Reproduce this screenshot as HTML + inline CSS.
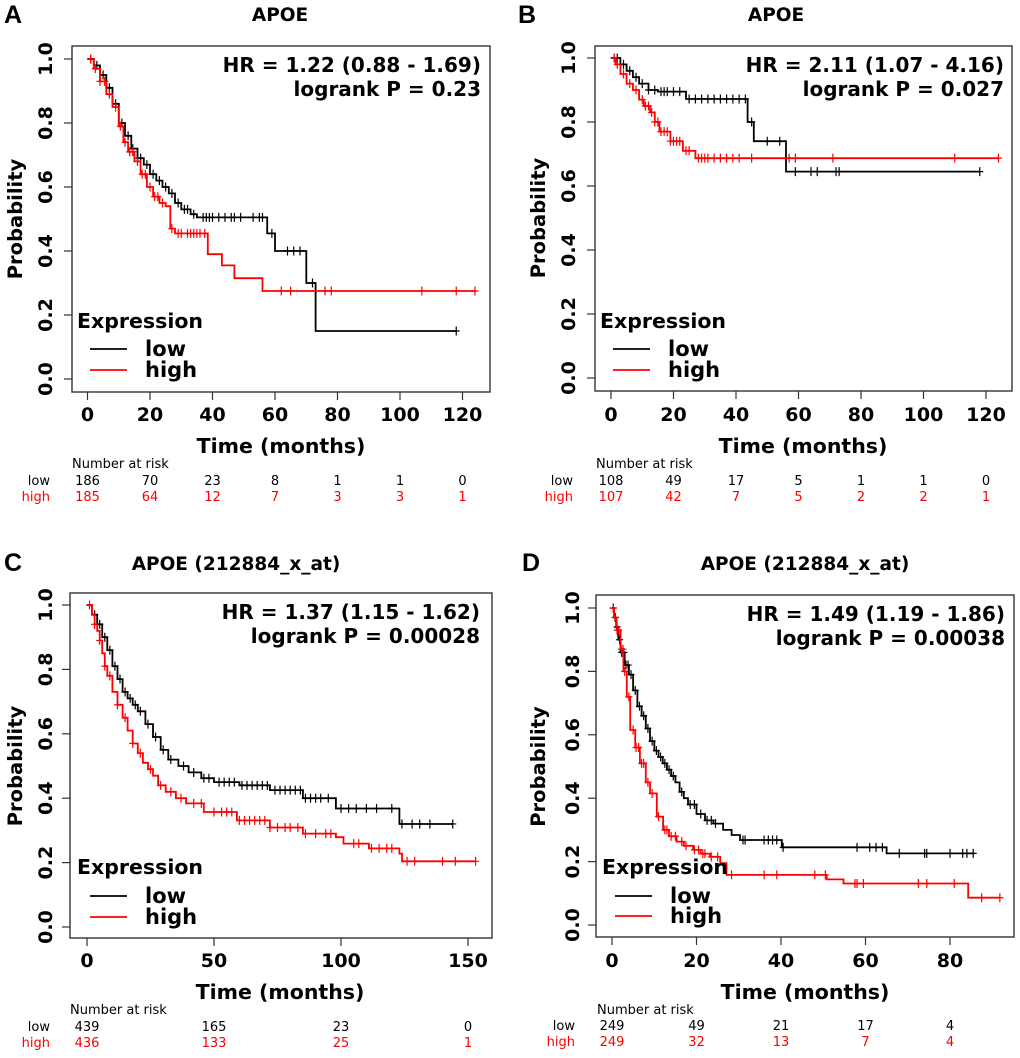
<!DOCTYPE html>
<html><head><meta charset="utf-8"><style>
html,body{margin:0;padding:0;background:#fff;}
svg{display:block;font-family:"DejaVu Sans","Liberation Sans",sans-serif;}
.b{font-weight:bold;}
.lt{font-family:"Liberation Sans",sans-serif;font-weight:bold;}
</style></head>
<body>
<svg id="fig" width="1020" height="1058" viewBox="0 0 1020 1058"></svg>
<script>
// ---------- Panel A data ----------
const aLowT=[0,2,4,6,8,10,12,14,16,18,20,22,24,26,28,30,33,35,57.5,60,70,73,118];
const aLowS=[1,0.98,0.95,0.91,0.86,0.80,0.76,0.72,0.69,0.67,0.64,0.62,0.60,0.58,0.55,0.53,0.515,0.505,0.455,0.40,0.30,0.15,0.15];
const aLowC=[1,3,5,7,9,11,13,14.5,16,17,19,21,23,25,27,29,31,32,34,37,38,39,40,42,44,46,47,49,53,55,56,59,64,66,68,72,118];
const aHighT=[0,2,4,6,8,10,11.5,13,15,17,19,21,23,25,26.5,28,38.5,43,47,56,124];
const aHighS=[1,0.97,0.93,0.89,0.85,0.79,0.74,0.71,0.68,0.64,0.60,0.57,0.55,0.54,0.47,0.455,0.39,0.355,0.315,0.275,0.275];
const aHighC=[1,2.5,4,5.5,7,9,10.5,12,13.5,14.5,16,17.5,18.5,20,21.5,22.5,24,27,29,30,32,33,34,35,36,37.5,62,65,76,78,107,118,124];
const aTicks=[0,20,40,60,80,100,120];
const aRiskLow=[186,70,23,8,1,1,0];
const aRiskHigh=[185,64,12,7,3,3,1];
// ---------- Panel B data ----------
const bLowT=[0,3,5,7,9,12,15,24,43.7,45.7,56,118];
const bLowS=[1,0.98,0.96,0.94,0.92,0.90,0.895,0.872,0.80,0.74,0.645,0.645];
const bLowC=[1,2,4,6,8,10,12,14,16,17,18,20,22,25,27,29,31,33,35,37,39,41,43,45,50,54,59,64,66,72,73,118];
const bHighT=[0,1.5,3,5,7,9,10.5,12.5,14,15.5,19,23,27,124];
const bHighS=[1,0.98,0.95,0.92,0.90,0.87,0.85,0.83,0.80,0.77,0.74,0.71,0.687,0.687];
const bHighC=[1,2,4,6,8,10,11,12,13,14,15,16,17,18,19,20,21,22,24,25,28,29,30,31,33,35,37,39,41,45,57,59,71,110,124];
const bTicks=[0,20,40,60,80,100,120];
const bRiskLow=[108,49,17,5,1,1,0];
const bRiskHigh=[107,42,7,5,2,2,1];
// ---------- Panel C data ----------
const cLowT=[0,2,4,6,8,10,12,14,16,18,20,23,26,29,32,36,40,45,50,60,72,85,98,123,144];
const cLowS=[1,0.97,0.94,0.90,0.86,0.81,0.77,0.73,0.71,0.69,0.67,0.63,0.59,0.55,0.52,0.50,0.48,0.462,0.45,0.44,0.425,0.40,0.368,0.32,0.32];
const cLowC=[3,5,7,9,11,13,15,17,19,21,24,27,30,33,38,42,46,48,52,54,56,58,61,63,65,67,69,71,74,76,78,80,82,84,86,88,90,92,95,100,103,106,110,114,120,124,128,131,135,144];
const cHighT=[0,2,3,4,5,6,7,8,10,12,14,16,18,20,22,24,26,28,31,35,39,46,59,72,85,98,101,111,123,124,153];
const cHighS=[1,0.97,0.94,0.92,0.89,0.85,0.81,0.78,0.73,0.69,0.65,0.61,0.57,0.54,0.51,0.49,0.47,0.44,0.42,0.40,0.384,0.357,0.331,0.309,0.29,0.279,0.259,0.244,0.228,0.204,0.204];
const cHighC=[1,3,5,7,9,12,15,18,21,25,29,33,37,42,45,50,53,55,57,60,62,64,66,68,70,72,75,78,80,83,86,90,94,96,105,107,112,115,118,120,126,129,140,145,153];
const cTicks=[0,50,100,150];
const cRiskLow=[439,165,23,0];
const cRiskHigh=[436,133,25,1];
// ---------- Panel D data ----------
const dLowT=[0,0.5,1,1.5,2,3,4,5,6,7,8,9,10,11,12,13,14,15,16,17,18,20,22,24,26.3,28.3,30.3,40.2,65,85.5];
const dLowS=[1,0.97,0.94,0.90,0.86,0.82,0.79,0.74,0.69,0.66,0.62,0.58,0.55,0.53,0.51,0.49,0.47,0.45,0.42,0.40,0.38,0.35,0.33,0.32,0.30,0.284,0.268,0.245,0.226,0.226];
const dLowC=[0.3,0.8,1.2,1.8,2.3,2.8,3.3,3.8,4.5,5.5,6.5,7.5,8.5,9.5,10.5,11.5,12.5,13.5,14.5,16.5,18.5,19.5,21,22.5,23.5,24.5,31,31.5,36,37,38,39,40.5,58,61,62.5,64,68,74,74.5,80,83,84,85.5];
const dHighT=[0,0.5,1.1,2,2.7,3.5,4.3,5.5,6.6,8,9,10.6,12.1,13.5,15.3,17,19.2,21,23.2,25.6,27.1,50.8,54.8,84.3,91.8];
const dHighS=[1,0.97,0.93,0.87,0.80,0.72,0.615,0.56,0.51,0.45,0.415,0.342,0.30,0.28,0.263,0.25,0.237,0.225,0.215,0.195,0.158,0.144,0.131,0.086,0.086];
const dHighC=[0.3,0.7,1.2,1.6,2.2,2.6,3,4,5,5.7,6.3,7,7.5,8.5,9.5,11,12.5,13,14,15,16.5,17.5,19.5,20.5,21.5,22,23.5,25,28.3,36,39,48,50.5,57.5,58,59.5,72.5,74.5,81,87.5,91.8];
const dTicks=[0,20,40,60,80];
const dRiskLow=[249,49,21,17,4];
const dRiskHigh=[249,32,13,7,4];
const yTicks=[0,0.2,0.4,0.6,0.8,1.0];

const NS="http://www.w3.org/2000/svg";
const svg=document.getElementById('fig');
function mk(tag,attrs,parent){const e=document.createElementNS(NS,tag);for(const k in attrs)e.setAttribute(k,attrs[k]);(parent||svg).appendChild(e);return e;}
function txt(s,attrs,parent){const e=mk('text',attrs,parent);e.textContent=s;return e;}

const panels=[
 {id:'a',letter:'A',lx:4,ly:23,title:'APOE',tx:280,ty:21,box:[72,46,490,392],x0:87.5,xs:3.125,y1:59,y0:379,ylabX:22,ytickX:52,hrX:481,hr1:72,hr2:96,hr:'HR = 1.22 (0.88 - 1.69)',p:'logrank P = 0.23',expX:77,expY:328,legY1:349,legY2:370,xtY:421,xtitle:[281,453],riskY:[468,485,501],riskLab:50,riskHead:72,
  lowT:aLowT,lowS:aLowS,lowC:aLowC,highT:aHighT,highS:aHighS,highC:aHighC,ticks:aTicks,rl:aRiskLow,rh:aRiskHigh},
 {id:'b',letter:'B',lx:518,ly:23,title:'APOE',tx:776,ty:21,box:[595,46,1012,391],x0:611,xs:3.125,y1:58,y0:378,ylabX:545,ytickX:575,hrX:1004,hr1:72,hr2:96,hr:'HR = 2.11 (1.07 - 4.16)',p:'logrank P = 0.027',expX:600,expY:328,legY1:349,legY2:370,xtY:421,xtitle:[803,453],riskY:[468,485,501],riskLab:573,riskHead:596,
  lowT:bLowT,lowS:bLowS,lowC:bLowC,highT:bHighT,highS:bHighS,highC:bHighC,ticks:bTicks,rl:bRiskLow,rh:bRiskHigh},
 {id:'c',letter:'C',lx:4,ly:571,title:'APOE (212884_x_at)',tx:236,ty:570,box:[70,593,492,938],x0:87,xs:2.54,y1:605,y0:927,ylabX:22,ytickX:52,hrX:480,hr1:619,hr2:643,hr:'HR = 1.37 (1.15 - 1.62)',p:'logrank P = 0.00028',expX:77,expY:874,legY1:896,legY2:917,xtY:967,xtitle:[280,999],riskY:[1014,1031,1047],riskLab:50,riskHead:70,
  lowT:cLowT,lowS:cLowS,lowC:cLowC,highT:cHighT,highS:cHighS,highC:cHighC,ticks:cTicks,rl:cRiskLow,rh:cRiskHigh},
 {id:'d',letter:'D',lx:522,ly:571,title:'APOE (212884_x_at)',tx:805,ty:570,box:[596,595,1014,937],x0:612,xs:4.225,y1:608,y0:925,ylabX:545,ytickX:579,hrX:1005,hr1:621,hr2:645,hr:'HR = 1.49 (1.19 - 1.86)',p:'logrank P = 0.00038',expX:602,expY:874,legY1:896,legY2:916,xtY:967,xtitle:[805,999],riskY:[1014,1030,1046],riskLab:575,riskHead:597,
  lowT:dLowT,lowS:dLowS,lowC:dLowC,highT:dHighT,highS:dHighS,highC:dHighC,ticks:dTicks,rl:dRiskLow,rh:dRiskHigh}
];

function survAt(T,S,t){let s=S[0];for(let i=0;i<T.length;i++){if(T[i]<=t)s=S[i];}return s;}

panels.forEach(P=>{
 const g=mk('g',{});
 
 
 const X=t=>P.x0+t*P.xs, Y=s=>P.y0-s*(P.y0-P.y1);
 const L=txt(P.letter,{x:P.lx,y:P.ly,'font-size':25,class:'lt'},g);
 
 
 const T=txt(P.title,{x:P.tx,y:P.ty,'font-size':18.5,class:'b','text-anchor':'middle'},g);
 
 
 const [bx0,by0,bx1,by1]=P.box;
 const fr=mk('rect',{x:bx0,y:by0,width:bx1-bx0,height:by1-by0,fill:'none',stroke:'#333','stroke-width':1.4},g);
 
 
 yTicks.forEach(v=>{
  const tk=mk('line',{x1:bx0,x2:bx0-8,y1:Y(v),y2:Y(v),stroke:'#333','stroke-width':1.2},g);
  
  
  const tl=txt(v.toFixed(1),{x:P.ytickX,y:Y(v),'font-size':19,class:'b','text-anchor':'middle',transform:`rotate(-90 ${P.ytickX} ${Y(v)})`},g);
  
  
 });
 const ym=(P.y0+P.y1)/2;
 const yl=txt('Probability',{x:P.ylabX,y:ym,'font-size':19.5,class:'b','text-anchor':'middle',transform:`rotate(-90 ${P.ylabX} ${ym})`},g);
 
 
 P.ticks.forEach((v,i)=>{
  const tk=mk('line',{x1:X(v),x2:X(v),y1:by1,y2:by1+8,stroke:'#333','stroke-width':1.2},g);
  
  
  const tl=txt(String(v),{x:X(v),y:P.xtY,'font-size':19,class:'b','text-anchor':'middle'},g);
  
  
  const rl=txt(String(P.rl[i]),{x:X(v),y:P.riskY[1],'font-size':13,'text-anchor':'middle',fill:'#000'},g);
  
  
  const rh=txt(String(P.rh[i]),{x:X(v),y:P.riskY[2],'font-size':13,'text-anchor':'middle',fill:'#ff0000'},g);
  
  
 });
 const xt=txt('Time (months)',{x:P.xtitle[0],y:P.xtitle[1],'font-size':20.5,class:'b','text-anchor':'middle'},g);
 
 
 const rhd=txt('Number at risk',{x:P.riskHead,y:P.riskY[0],'font-size':13},g);
 
 
 const rlo=txt('low',{x:P.riskLab,y:P.riskY[1],'font-size':13,'text-anchor':'end'},g);
 
 
 const rhi=txt('high',{x:P.riskLab,y:P.riskY[2],'font-size':13,'text-anchor':'end',fill:'#ff0000'},g);
 
 
 [['low',P.lowT,P.lowS,P.lowC,'#000'],['high',P.highT,P.highS,P.highC,'#ff0000']].forEach(([nm,Ts,Ss,Cs,col])=>{
  let d=`M${X(Ts[0])},${Y(Ss[0])}`;
  for(let i=1;i<Ts.length;i++){d+=` H${X(Ts[i]).toFixed(1)} V${Y(Ss[i]).toFixed(1)}`;}
  const pth=mk('path',{d:d,fill:'none',stroke:col,'stroke-width':1.8},g);
  
  
  Cs.forEach(t=>{
   const cx=X(t), cy=Y(survAt(Ts,Ss,t));
   const cm=mk('path',{d:`M${cx-3.5},${cy} H${cx+3.5} M${cx},${cy-4.5} V${cy+4.5}`,stroke:col,'stroke-width':1.2,fill:'none'},g);
   
   
  });
 });
 const h1=txt(P.hr,{x:P.hrX,y:P.hr1,'font-size':20,class:'b','text-anchor':'end'},g);
 
 
 const h2=txt(P.p,{x:P.hrX,y:P.hr2,'font-size':20,class:'b','text-anchor':'end'},g);
 
 
 const lg=mk('g',{},g);
 
 
 const et=txt('Expression',{x:P.expX,y:P.expY,'font-size':20.5,class:'b'},lg);
 
 
 const l1=mk('line',{x1:P.expX+13,x2:P.expX+50,y1:P.legY1,y2:P.legY1,stroke:'#000','stroke-width':1.8},lg);
 
 
 const t1=txt('low',{x:P.expX+68,y:P.legY1+7,'font-size':21,class:'b'},lg);
 
 
 const l2=mk('line',{x1:P.expX+13,x2:P.expX+50,y1:P.legY2,y2:P.legY2,stroke:'#ff0000','stroke-width':1.8},lg);
 
 
 const t2=txt('high',{x:P.expX+68,y:P.legY2+7,'font-size':21,class:'b'},lg);
 
 
});
</script>
</body></html>
